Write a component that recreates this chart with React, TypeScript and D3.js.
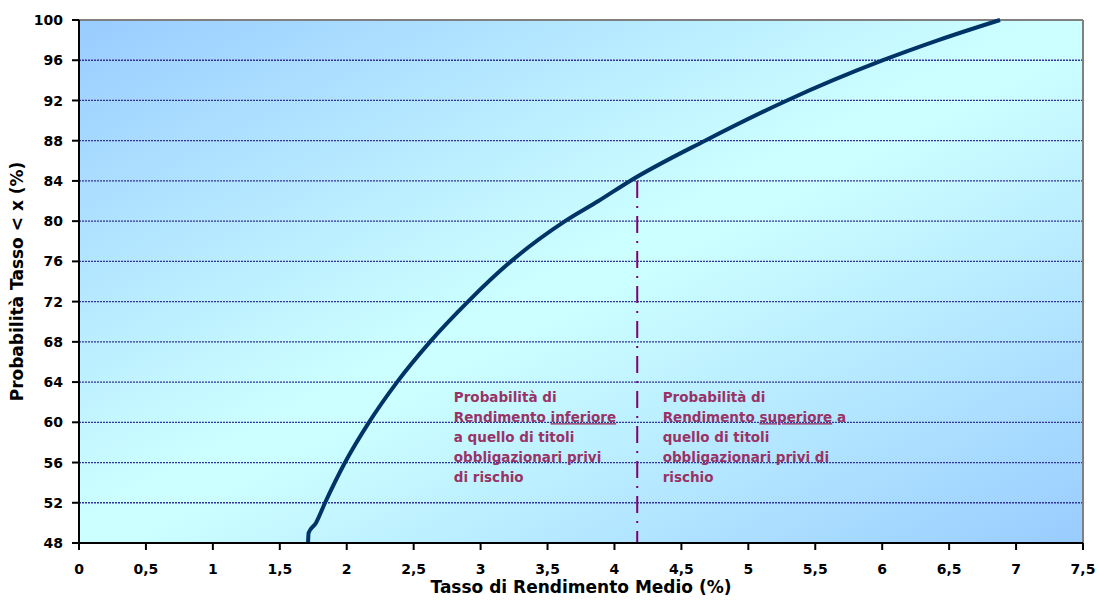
import React from 'react';
import * as d3 from 'd3';

// cumulative probability curve: rate (%) -> probability (%)
const rates = [1.711, 1.715, 1.77, 1.838, 1.987, 2.166, 2.376, 2.622, 2.906, 3.227, 3.631, 3.88, 4.116, 4.676, 5.289, 6.006, 6.42, 6.88];
const probs = [48, 49, 50, 52, 56, 60, 64, 68, 72, 76, 80, 82, 84, 88, 92, 96, 98, 100];

const xTicks = [0, 0.5, 1, 1.5, 2, 2.5, 3, 3.5, 4, 4.5, 5, 5.5, 6, 6.5, 7, 7.5];
const yTicks = [48, 52, 56, 60, 64, 68, 72, 76, 80, 84, 88, 92, 96, 100];

// risk-free rate marker
const riskFree = 4.17;
const riskFreeProb = 84;

const leftNote = ['Probabilità di', ['Rendimento ', 'inferiore'], 'a quello di titoli', 'obbligazionari privi', 'di rischio'];
const rightNote = ['Probabilità di', ['Rendimento ', 'superiore', ' a'], 'quello di titoli', 'obbligazionari privi di', 'rischio'];

const W = 1099;
const H = 607;
const margin = { top: 20, right: 16, bottom: 64, left: 79 };
const font = '"DejaVu Sans", Verdana, sans-serif';

export default function App() {
  const iw = W - margin.left - margin.right;
  const ih = H - margin.top - margin.bottom;

  const x = d3.scaleLinear().domain([0, 7.5]).range([0, iw]);
  const y = d3.scaleLinear().domain([48, 100]).range([ih, 0]);

  const pts: [number, number][] = rates.map((r, i) => [r, probs[i]]);
  const line = d3.line<[number, number]>()
    .curve(d3.curveMonotoneX)
    .x(d => x(d[0]))
    .y(d => y(d[1]));

  const noteColor = '#993366';

  const renderNote = (lines: any[], x0: number) => (
    <text x={x0} y={y(62)} fill={noteColor} fontSize={13.5} fontWeight="bold" fontFamily={font}>
      {lines.map((ln, i) => (
        <tspan key={i} x={x0} dy={i === 0 ? 0 : 20}>
          {typeof ln === 'string'
            ? ln
            : ln.map((part: string, j: number) => (
                <tspan key={j} textDecoration={j === 1 ? 'underline' : undefined}>{part}</tspan>
              ))}
        </tspan>
      ))}
    </text>
  );

  return (
    <svg width={W} height={H} style={{ position: 'absolute', left: 0, top: 0, background: '#fff' }}>
      <defs>
        <linearGradient id="bg" x1="0" y1="0" x2="1" y2="1">
          <stop offset="0" stopColor="#99CCFF" />
          <stop offset="0.48" stopColor="#CCFFFF" />
          <stop offset="0.52" stopColor="#CCFFFF" />
          <stop offset="1" stopColor="#99CCFF" />
        </linearGradient>
      </defs>
      <g transform={`translate(${margin.left},${margin.top})`}>
        <rect x={0} y={0} width={iw} height={ih} fill="url(#bg)" />

        {/* grid lines */}
        {yTicks.filter(t => t !== 48 && t !== 100).map(t => (
          <line key={t} x1={0} x2={iw} y1={y(t)} y2={y(t)} stroke="#333399" strokeWidth={1.3} strokeDasharray="2,1" />
        ))}

        {/* plot border (top/right) */}
        <line x1={0} x2={iw} y1={0} y2={0} stroke="#808080" strokeWidth={2} />
        <line x1={iw} x2={iw} y1={0} y2={ih} stroke="#808080" strokeWidth={2} />

        {/* risk-free marker */}
        <line x1={x(riskFree)} x2={x(riskFree)} y1={y(riskFreeProb)} y2={ih} stroke="#800070" strokeWidth={2} strokeDasharray="17,8,2,8" />

        {renderNote(leftNote, x(2.8))}
        {renderNote(rightNote, x(4.36))}

        {/* curve */}
        <path d={line(pts) || ''} fill="none" stroke="#003366" strokeWidth={4} strokeLinejoin="round" />

        {/* axes */}
        <line x1={0} x2={0} y1={0} y2={ih} stroke="#000" strokeWidth={2} />
        <line x1={0} x2={iw} y1={ih} y2={ih} stroke="#000" strokeWidth={2} />

        {yTicks.map(t => (
          <g key={t} transform={`translate(0,${y(t)})`}>
            <line x1={-7} x2={0} stroke="#000" strokeWidth={2} />
            <text x={-16} dy="0.36em" textAnchor="end" fontSize={14} fontWeight="bold" fontFamily={font} fill="#000">{t}</text>
          </g>
        ))}

        {xTicks.map(t => (
          <g key={t} transform={`translate(${x(t)},${ih})`}>
            <line y1={0} y2={7} stroke="#000" strokeWidth={2} />
            <text y={31} textAnchor="middle" fontSize={14} fontWeight="bold" fontFamily={font} fill="#000">{String(t).replace('.', ',')}</text>
          </g>
        ))}

        <text x={iw / 2} y={ih + 50} textAnchor="middle" fontSize={17} fontWeight="bold" fontFamily={font} fill="#000">Tasso di Rendimento Medio (%)</text>
        <text transform={`translate(${-56},${ih / 2}) rotate(-90)`} textAnchor="middle" fontSize={17} fontWeight="bold" fontFamily={font} fill="#000">Probabilità Tasso &lt; x (%)</text>
      </g>
    </svg>
  );
}
